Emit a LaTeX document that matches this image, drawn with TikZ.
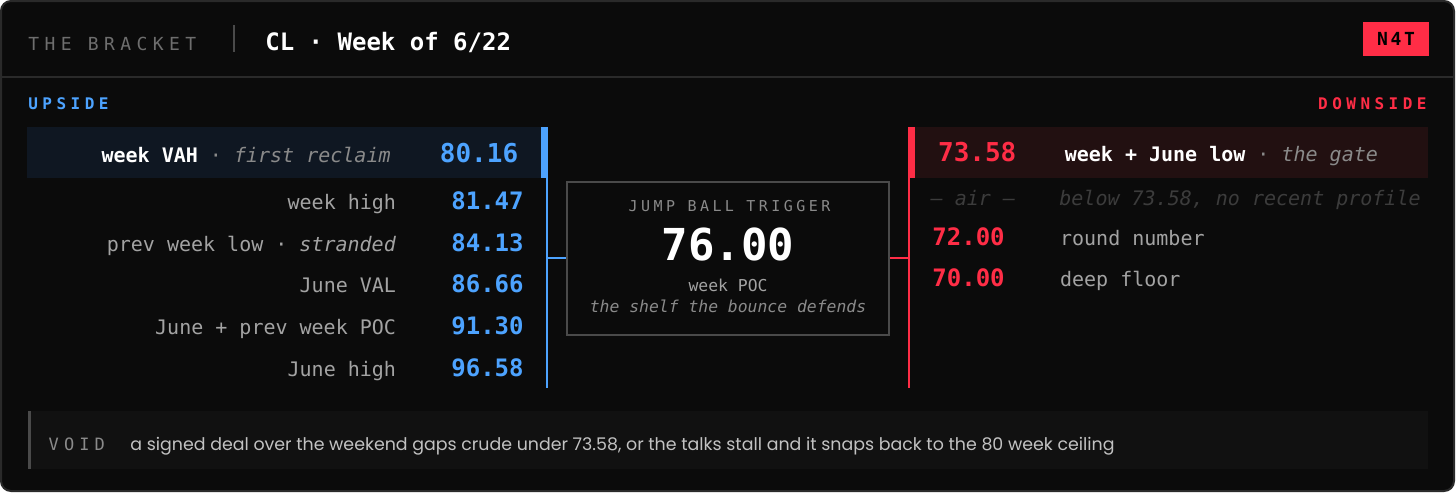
\documentclass[tikz,border=0pt]{standalone}
\usepackage{fontspec}
\setmonofont{DejaVu Sans Mono}
\newfontfamily\voidfont{Poppins}
\usepackage{xcolor}
\definecolor{PanelBg}{HTML}{0B0B0B}
\definecolor{PanelLine}{HTML}{2A2A2A}
\definecolor{UpBlue}{HTML}{4DA3FF}
\definecolor{DownRed}{HTML}{FF2D46}
\definecolor{UpShade}{HTML}{0F1722}
\definecolor{DownShade}{HTML}{221011}
\definecolor{LabelGray}{HTML}{A3A3A3}
\definecolor{NoteGray}{HTML}{8A8A8A}
\definecolor{DimGray}{HTML}{3C3C3C}
\definecolor{CapsGray}{HTML}{6E6E6E}
\definecolor{BoxLine}{HTML}{4A4A4A}
\definecolor{VoidBg}{HTML}{111111}
\definecolor{VoidText}{HTML}{C2C2C2}
\usepackage{tikz}

\begin{document}
\begin{tikzpicture}[x=0.5pt, y=-0.5pt,
        lbl/.style={anchor=base east, inner sep=0pt, text=LabelGray, font=\ttfamily\fontsize{10}{12}\selectfont},
        rlbl/.style={lbl, anchor=base west},
        upval/.style={anchor=base east, inner sep=0pt, text=UpBlue, font=\ttfamily\bfseries\fontsize{12}{14}\selectfont},
        downval/.style={upval, anchor=base west, text=DownRed},
        keyval/.style={font=\ttfamily\bfseries\fontsize{13}{15}\selectfont},
        caps/.style={inner sep=0pt, font=\ttfamily\bfseries\fontsize{8}{10}\selectfont\addfontfeature{LetterSpace=28}},
        rail/.style={line width=1pt}
    ]
        % frame and header
        \fill[white] (0,0) rectangle (1456,493);
        \draw[PanelLine, fill=PanelBg, line width=1pt, rounded corners=5pt] (1,1) rectangle (1454,491);
        \draw[PanelLine, line width=1pt] (1,77) -- (1454,77);

        \node[anchor=base west, inner sep=0pt, text=CapsGray, font=\ttfamily\fontsize{9}{11}\selectfont\addfontfeature{LetterSpace=30}] (brand) at (28,50) {THE BRACKET};
        \draw[BoxLine, line width=1pt] (234,25) -- (234,52);
        \node[anchor=base west, inner sep=0pt, text=white, font=\ttfamily\bfseries\fontsize{12}{14}\selectfont] (ticker) at (265,50) {CL · Week of 6/22};
        \node[fill=DownRed, text=black, minimum width=33pt, minimum height=17pt, inner sep=0pt, font=\ttfamily\bfseries\fontsize{9}{11}\selectfont\addfontfeature{LetterSpace=15}] (badge) at (1396,39) {N4T};

        \node[caps, anchor=base west, text=UpBlue] (upside) at (28,109) {UPSIDE};
        \node[caps, anchor=base east, text=DownRed] (downside) at (1427,109) {DOWNSIDE};

        % highlighted first rows
        \fill[UpShade] (27,127) rectangle (541,178);
        \fill[UpBlue] (541,127) rectangle (547.5,178);
        \fill[DownShade] (915,127) rectangle (1428,178);
        \fill[DownRed] (908,127) rectangle (915,178);

        % rails
        \coordinate (uptop) at (546.5,127);
        \coordinate (upbot) at (546.5,388);
        \coordinate (upmid) at (546.5,258.3);
        \coordinate (downtop) at (908.8,127);
        \coordinate (downbot) at (908.8,388);
        \coordinate (downmid) at (908.8,258.3);
        \draw[UpBlue, rail] (uptop) -- (upbot);
        \draw[DownRed, rail] (downtop) -- (downbot);

        % trigger box
        \node[draw=BoxLine, fill=PanelBg, line width=1pt, minimum width=161.3pt, minimum height=76.7pt, inner sep=0pt] (trigger) at (728,258.3) {};
        \node[anchor=base, inner sep=0pt, text=NoteGray, font=\ttfamily\fontsize{7.5}{9}\selectfont\addfontfeature{LetterSpace=23}] (trigtitle) at (729.5,211) {JUMP BALL TRIGGER};
        \node[anchor=base, inner sep=0pt, text=white, font=\ttfamily\bfseries\fontsize{22}{24}\selectfont] (trigval) at (728,260) {76.00};
        \node[anchor=base, inner sep=0pt, text=LabelGray, font=\ttfamily\fontsize{8.2}{10}\selectfont] (trigname) at (728,291.7) {week POC};
        \node[anchor=base, inner sep=0pt, text=NoteGray, font=\ttfamily\itshape\fontsize{8.2}{10}\selectfont] (trignote) at (728,312.7) {the shelf the bounce defends};
        \draw[UpBlue, rail] (upmid) -- (trigger.west);
        \draw[DownRed, rail] (trigger.east) -- (downmid);

        % upside levels
        \node[lbl] (uplbl1) at (391,162.3) {\textcolor{white}{\bfseries week VAH} \textcolor{NoteGray}{· \itshape first reclaim}};
        \node[upval, keyval] (upval1) at (518.6,162.3) {80.16};
        \foreach \lvl/\price/\yy [count=\i from 2] in {
            {week high}/81.47/209.3,
            {prev week low · \textit{stranded}}/84.13/251,
            {June VAL}/86.66/292.3,
            {June + prev week POC}/91.30/334.3,
            {June high}/96.58/376} {
            \node[lbl] (uplbl\i) at (396.4,\yy) {\lvl};
            \node[upval] (upval\i) at (524,\yy) {\price};
        }

        % downside levels
        \node[downval, keyval] (downval1) at (937.7,161.7) {73.58};
        \node[rlbl] (downlbl1) at (1064.4,161.7) {\textcolor{white}{\bfseries week + June low} \textcolor{NoteGray}{· \itshape the gate}};
        \node[rlbl, text=DimGray, font=\ttfamily\itshape\fontsize{10}{12}\selectfont] (air) at (930.4,205.5) {— air —};
        \node[rlbl, text=DimGray, font=\ttfamily\itshape\fontsize{10}{12}\selectfont] (airnote) at (1059,205.5) {below 73.58, no recent profile};
        \foreach \price/\lvl/\yy [count=\i from 2] in {72.00/{round number}/245, 70.00/{deep floor}/286.7} {
            \node[downval] (downval\i) at (932,\yy) {\price};
            \node[rlbl] (downlbl\i) at (1059.7,\yy) {\lvl};
        }

        % void strip
        \fill[VoidBg] (28,411) rectangle (1428,469);
        \fill[BoxLine] (28,411) rectangle (31,469);
        \node[anchor=base west, inner sep=0pt, text=NoteGray, font=\ttfamily\fontsize{8.5}{10}\selectfont\addfontfeature{LetterSpace=30}] (void) at (48.3,450.7) {VOID};
        \node[anchor=base west, inner sep=0pt, text=VoidText, font=\voidfont\fontsize{8.7}{10}\selectfont] (voidnote) at (130,450.7) {a signed deal over the weekend gaps crude under 73.58, or the talks stall and it snaps back to the 80 week ceiling};
    \end{tikzpicture}
\end{document}
